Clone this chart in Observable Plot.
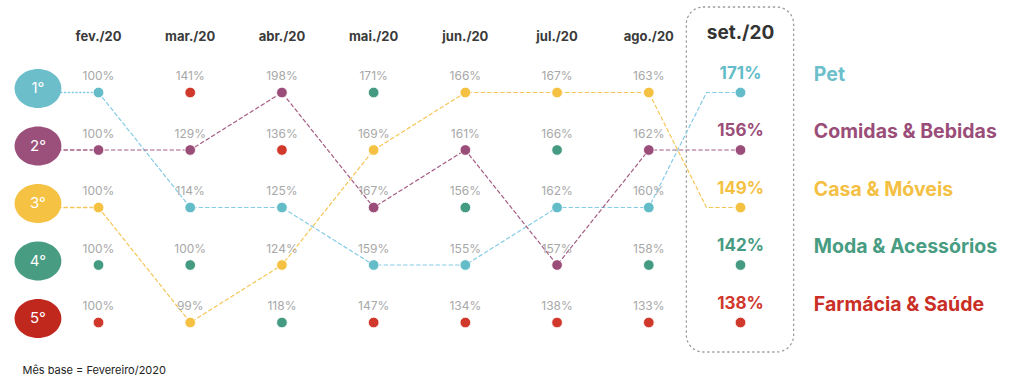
<!DOCTYPE html>
<html>
<head>
<meta charset="utf-8">
<script src="https://cdn.jsdelivr.net/npm/d3@7"></script>
<script src="https://cdn.jsdelivr.net/npm/@observablehq/plot@0.6"></script>
<style>
  html, body { margin: 0; padding: 0; background: #fff; }
  body { width: 1024px; height: 387px; overflow: hidden; font-family: Inter, sans-serif; }
</style>
</head>
<body>
<div id="chart"></div>
<script>
// ---- Data ----
const months = ["fev./20", "mar./20", "abr./20", "mai./20", "jun./20", "jul./20", "ago./20", "set./20"];
const categories = ["Pet", "Comidas & Bebidas", "Casa & Móveis", "Moda & Acessórios", "Farmácia & Saúde"];
const petValues      = [100, 114, 125, 159, 155, 162, 160, 171];
const comidasValues  = [100, 129, 198, 167, 161, 157, 162, 156];
const casaValues     = [100,  99, 124, 169, 166, 167, 163, 149];
const modaValues     = [100, 100, 118, 171, 156, 166, 158, 142];
const farmaciaValues = [100, 141, 136, 147, 134, 138, 133, 138];
const rankLabels = ["1°", "2°", "3°", "4°", "5°"];
const highlighted = ["Pet", "Comidas & Bebidas", "Casa & Móveis"];
const baseNote = "Mês base = Fevereiro/2020";

const dotColors = {
  "Pet": "#63bcc8",
  "Comidas & Bebidas": "#9b4d79",
  "Casa & Móveis": "#f5c142",
  "Moda & Acessórios": "#459b81",
  "Farmácia & Saúde": "#d1382c"
};
const lineColors = {
  "Pet": "#85cbe6",
  "Comidas & Bebidas": "#a45c84",
  "Casa & Móveis": "#f5c657"
};
const rankColors = ["#6cbfca", "#9b4f7b", "#f5c243", "#479c82", "#c0281e"];
const legendColors = ["#6cbfcb", "#9b4d79", "#f4c043", "#479c82", "#c92f26"];

// ---- Derived table ----
const valuesBy = {
  "Pet": petValues,
  "Comidas & Bebidas": comidasValues,
  "Casa & Móveis": casaValues,
  "Moda & Acessórios": modaValues,
  "Farmácia & Saúde": farmaciaValues
};
const table = [];
months.forEach((m, i) => {
  const sorted = categories
    .map((c, k) => ({c, k, v: valuesBy[c][i]}))
    .sort((a, b) => (b.v - a.v) || (a.k - b.k));
  sorted.forEach((d, r) => table.push({month: m, i, cat: d.c, value: d.v, rank: r + 1}));
});
const last = months.length - 1;
const rankOf = (c, i) => table.find(d => d.cat === c && d.i === i).rank;

const RANK_COL = -0.66;   // column of the rank badges (in month-index units)
const KINK = last - 0.37; // where the last segment turns horizontal

const lines = [];
highlighted.forEach(c => {
  for (let i = 0; i < last; i++) lines.push({cat: c, i, rank: rankOf(c, i)});
  lines.push({cat: c, i: KINK, rank: rankOf(c, last)});
  lines.push({cat: c, i: last, rank: rankOf(c, last)});
});
const connectors = highlighted.flatMap(c => [
  {cat: c, i: RANK_COL, rank: rankOf(c, 0)},
  {cat: c, i: 0, rank: rankOf(c, 0)}
]);
const ranks = rankLabels.map((l, k) => ({label: l, rank: k + 1, color: rankColors[k]}));
const legend = categories.map((c, k) => ({cat: c, rank: rankOf(c, last), color: legendColors[k]}));

const ellipse = {
  draw(context, size) {
    const r = Math.sqrt(size / Math.PI);
    const rx = r * 1.2, ry = r, k = 0.5523;
    context.moveTo(rx, 0);
    context.bezierCurveTo(rx, ry * k, rx * k, ry, 0, ry);
    context.bezierCurveTo(-rx * k, ry, -rx, ry * k, -rx, 0);
    context.bezierCurveTo(-rx, -ry * k, -rx * k, -ry, 0, -ry);
    context.bezierCurveTo(rx * k, -ry, rx, -ry * k, rx, 0);
    context.closePath();
  }
};

const FONT = "Inter, 'Open Sans', sans-serif";

const chart = Plot.plot({
  width: 1024,
  height: 387,
  margin: 0,
  style: {fontFamily: FONT, background: "#fff"},
  x: {domain: [0, last], range: [98, 740], axis: null},
  y: {type: "linear", domain: [1, 5], range: [92, 322], axis: null},
  marks: [
    // dotted rounded frame around the latest month
    Plot.rect([0], {
      x1: last - 0.585, x2: last + 0.585,
      insetTop: 7, insetBottom: 35,
      rx: 17, fill: "none", stroke: "#9a9a9a", strokeWidth: 1.3,
      strokeDasharray: "1.3,3.7", strokeLinecap: "round"
    }),
    // month headers
    Plot.text(months.slice(0, last), {
      x: (d, i) => i, frameAnchor: "top", lineAnchor: "middle", dy: 36,
      fontSize: 13, fontWeight: 700, fill: "#3a3a3a"
    }),
    Plot.text([months[last]], {
      x: last, frameAnchor: "top", lineAnchor: "middle", dy: 32,
      fontSize: 19, fontWeight: 700, fill: "#333"
    }),
    // connectors from badges (Pet dotted, others dashed)
    Plot.line(connectors.filter(d => d.cat === "Pet"), {
      x: "i", y: "rank", z: "cat",
      stroke: d => lineColors[d.cat], strokeWidth: 1.4,
      strokeDasharray: "1.2,2.6"
    }),
    Plot.line(connectors.filter(d => d.cat !== "Pet"), {
      x: "i", y: "rank", z: "cat",
      stroke: d => lineColors[d.cat], strokeWidth: 1.3,
      strokeDasharray: "3.5,3"
    }),
    // rank lines
    Plot.line(lines, {
      x: "i", y: "rank", z: "cat",
      stroke: d => lineColors[d.cat], strokeWidth: 1.2,
      strokeDasharray: "3.5,3"
    }),
    // dots
    Plot.dot(table, {
      x: "i", y: "rank", r: 5.3,
      fill: d => dotColors[d.cat], stroke: "#fff", strokeWidth: 0.8
    }),
    // value labels (grey)
    Plot.text(table.filter(d => d.i < last), {
      x: "i", y: "rank", dy: -16,
      text: d => d.value + "%", fontSize: 12, fill: "#a8a8a8"
    }),
    // value labels for latest month (colored, bold)
    Plot.text(table.filter(d => d.i === last), {
      x: "i", y: "rank", dy: -19,
      text: d => d.value + "%", fontSize: 17, fontWeight: 700,
      fill: d => dotColors[d.cat]
    }),
    // rank badges
    Plot.dot(ranks, {
      x: () => RANK_COL, y: "rank", dy: -4, r: 19.5,
      symbol: ellipse, fill: "color", stroke: "none"
    }),
    Plot.text(ranks, {
      x: () => RANK_COL, y: "rank", dy: -4, text: "label",
      fontSize: 15, fill: "#fff"
    }),
    // legend labels on the right
    Plot.text(legend, {
      x: () => last + 0.8, y: "rank", dy: -18, text: "cat",
      textAnchor: "start", fontSize: 19.5, fontWeight: 700, fill: "color"
    }),
    // base month note
    Plot.text([baseNote], {
      frameAnchor: "bottom-left", lineAnchor: "middle", dx: 22, dy: -17,
      textAnchor: "start", fontSize: 11, fill: "#222"
    })
  ]
});
document.getElementById("chart").appendChild(chart);
</script>
</body>
</html>
